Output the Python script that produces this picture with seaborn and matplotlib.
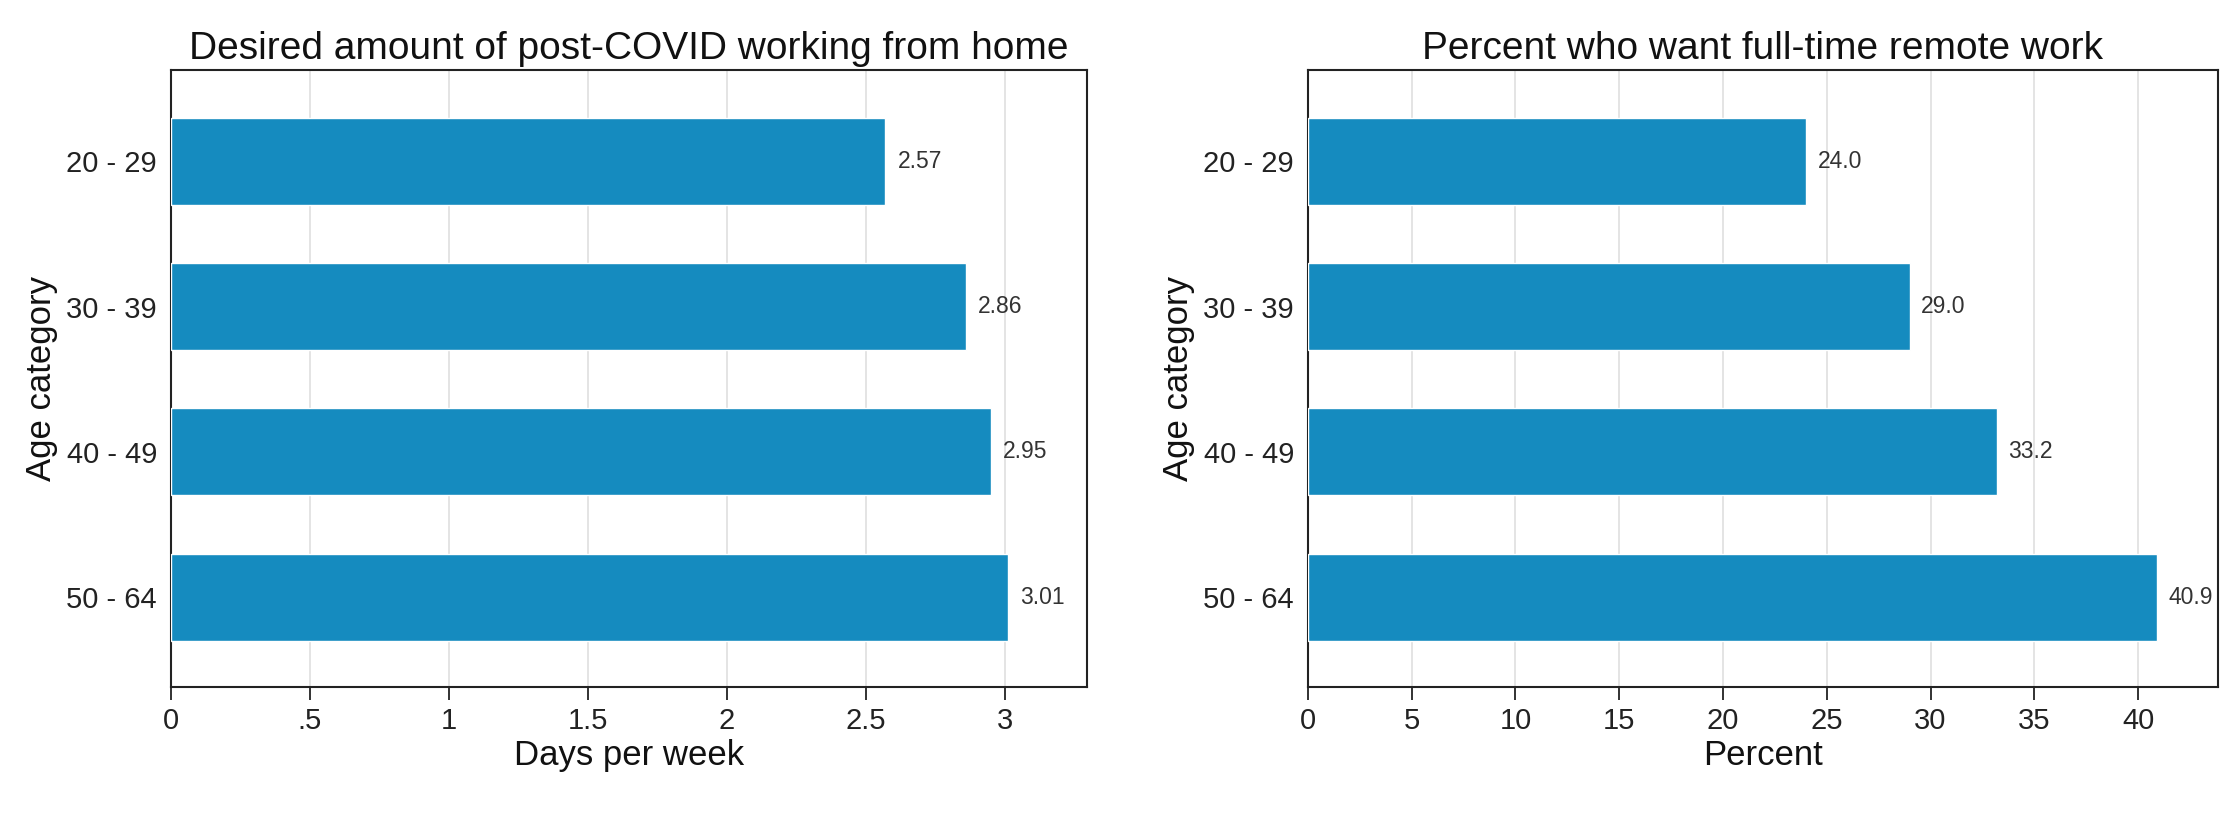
import matplotlib
matplotlib.use("Agg")
import matplotlib.pyplot as plt
import seaborn as sns
import pandas as pd

age_categories = ["20 - 29", "30 - 39", "40 - 49", "50 - 64"]
days_per_week = [2.57, 2.86, 2.95, 3.01]
pct_full_remote = [24.0, 29.0, 33.2, 40.9]

left_title = "Desired amount of post-COVID working from home"
right_title = "Percent who want full-time remote work"
left_xlabel = "Days per week"
right_xlabel = "Percent"
ylabel = "Age category"
left_ticks = [0, 0.5, 1, 1.5, 2, 2.5, 3]
left_ticklabels = ["0", ".5", "1", "1.5", "2", "2.5", "3"]
right_ticks = [0, 5, 10, 15, 20, 25, 30, 35, 40]
right_ticklabels = ["0", "5", "10", "15", "20", "25", "30", "35", "40"]

sns.set_theme(style="white")
plt.rcParams["font.family"] = ["Liberation Sans", "DejaVu Sans"]

BAR = "#158bbf"
fig = plt.figure(figsize=(22.32, 8.22), dpi=100)
axL = fig.add_axes([0.0766, 0.164, 0.487 - 0.0766, 0.915 - 0.164])
axR = fig.add_axes([0.586, 0.164, 0.9937 - 0.586, 0.915 - 0.164])

def panel(ax, vals, fmt, title, xlabel, ticks, ticklabels, xmax, offset):
    df = pd.DataFrame({"age": age_categories, "val": vals})
    sns.barplot(data=df, x="val", y="age", orient="h", color=BAR,
                width=0.6, saturation=1, ax=ax, zorder=3)
    ax.set_xlim(0, xmax)
    ax.set_ylim(3.62, -0.63)
    ax.set_xticks(ticks)
    ax.set_xticklabels(ticklabels)
    ax.grid(axis="x", color="#e2e2e2", linewidth=1.3, zorder=0)
    ax.grid(axis="y", visible=False)
    ax.set_axisbelow(True)
    for s in ax.spines.values():
        s.set_visible(True)
        s.set_color("#222222")
        s.set_linewidth(1.5)
    ax.tick_params(axis="x", direction="out", length=9, width=1.3,
                   color="#222222", labelsize=21, pad=5, bottom=True)
    ax.tick_params(axis="y", length=0, labelsize=21, pad=10)
    for lab in ax.get_xticklabels() + ax.get_yticklabels():
        lab.set_color("#222222")
    ax.set_title(title, fontsize=28, pad=8, color="#111111")
    ax.set_xlabel(xlabel, fontsize=25, labelpad=3, color="#111111")
    ax.set_ylabel(ylabel, fontsize=25, labelpad=6, color="#111111")
    for i, v in enumerate(vals):
        ax.text(v + offset, i, fmt.format(v), va="center", ha="left",
                fontsize=16.5, color="#333333")

panel(axL, days_per_week, "{:.2f}", left_title, left_xlabel,
      left_ticks, left_ticklabels, 3.295, 0.043)
panel(axR, pct_full_remote, "{:.1f}", right_title, right_xlabel,
      right_ticks, right_ticklabels, 43.85, 0.55)

fig.savefig("out.png", dpi=100, facecolor="white")
